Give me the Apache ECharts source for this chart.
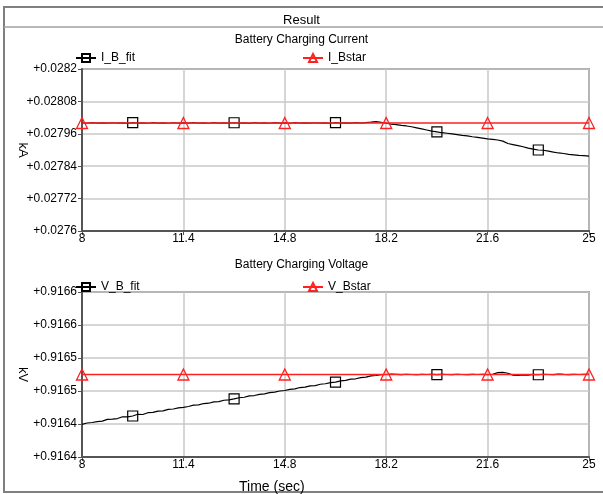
<!DOCTYPE html>
<html>
<head>
<meta charset="utf-8">
<script src="https://cdn.jsdelivr.net/npm/echarts@6.0.0/dist/echarts.min.js"></script>
<style>
  html, body { margin: 0; padding: 0; background: #fff; }
  #main { width: 603px; height: 494px; }
</style>
</head>
<body>
<div id="main"></div>
<script>
// time axis (sec)
var times = [
  8, 8.17, 8.34, 8.51, 8.68, 8.85, 9.02, 9.19, 9.36, 9.53,
  9.7, 9.87, 10.04, 10.21, 10.38, 10.55, 10.72, 10.89, 11.06, 11.23,
  11.4, 11.57, 11.74, 11.91, 12.08, 12.25, 12.42, 12.59, 12.76, 12.93,
  13.1, 13.27, 13.44, 13.61, 13.78, 13.95, 14.12, 14.29, 14.46, 14.63,
  14.8, 14.97, 15.14, 15.31, 15.48, 15.65, 15.82, 15.99, 16.16, 16.33,
  16.5, 16.67, 16.84, 17.01, 17.18, 17.35, 17.52, 17.69, 17.86, 18.03,
  18.2, 18.37, 18.54, 18.71, 18.88, 19.05, 19.22, 19.39, 19.56, 19.73,
  19.9, 20.07, 20.24, 20.41, 20.58, 20.75, 20.92, 21.09, 21.26, 21.43,
  21.6, 21.77, 21.94, 22.11, 22.28, 22.45, 22.62, 22.79, 22.96, 23.13,
  23.3, 23.47, 23.64, 23.81, 23.98, 24.15, 24.32, 24.49, 24.66, 24.83,
  25
];

// I_B_fit (kA)
var iFit = [
  0.0280005, 0.0279990, 0.0280012, 0.0279995, 0.0280008, 0.0279992, 0.0280010, 0.0279996, 0.0280006, 0.0279989,
  0.0280011, 0.0279994, 0.0280007, 0.0279991, 0.0280012, 0.0279997, 0.0280004, 0.0279990, 0.0280009, 0.0279995,
  0.0280008, 0.0279993, 0.0280011, 0.0279996, 0.0280005, 0.0279990, 0.0280013, 0.0279994, 0.0280006, 0.0279992,
  0.0280010, 0.0279997, 0.0280007, 0.0279989, 0.0280012, 0.0279995, 0.0280008, 0.0279991, 0.0280011, 0.0279996,
  0.0280004, 0.0279990, 0.0280013, 0.0279993, 0.0280007, 0.0279994, 0.0280010, 0.0279995, 0.0280008, 0.0279990,
  0.0280012, 0.0279996, 0.0280006, 0.0279992, 0.0280011, 0.0279997, 0.0280015, 0.0280030, 0.0280050, 0.0280020,
  0.0279990, 0.0279960, 0.0279940, 0.0279910, 0.0279890, 0.0279860, 0.0279820, 0.0279780, 0.0279740, 0.0279700,
  0.0279670, 0.0279640, 0.0279620, 0.0279600, 0.0279570, 0.0279540, 0.0279520, 0.0279490, 0.0279470, 0.0279440,
  0.0279410, 0.0279390, 0.0279370, 0.0279330, 0.0279240, 0.0279200, 0.0279160, 0.0279120, 0.0279070, 0.0279030,
  0.0279000, 0.0278990, 0.0278960, 0.0278920, 0.0278890, 0.0278870, 0.0278840, 0.0278820, 0.0278800, 0.0278790,
  0.0278770
];

// V_B_fit (kV)
var vFit = [
  0.9164395, 0.9164412, 0.9164418, 0.9164428, 0.9164435, 0.9164456, 0.9164458, 0.9164466, 0.9164488, 0.9164486,
  0.9164497, 0.9164518, 0.9164515, 0.9164537, 0.9164540, 0.9164556, 0.9164560, 0.9164578, 0.9164582, 0.9164596,
  0.9164602, 0.9164612, 0.9164628, 0.9164632, 0.9164648, 0.9164652, 0.9164668, 0.9164672, 0.9164688, 0.9164693,
  0.9164705, 0.9164718, 0.9164724, 0.9164740, 0.9164745, 0.9164760, 0.9164765, 0.9164780, 0.9164786, 0.9164800,
  0.9164806, 0.9164820, 0.9164826, 0.9164842, 0.9164846, 0.9164862, 0.9164866, 0.9164882, 0.9164888, 0.9164902,
  0.9164908, 0.9164922, 0.9164928, 0.9164944, 0.9164948, 0.9164963, 0.9164968, 0.9164984, 0.9164988, 0.9164998,
  0.9165000, 0.9165004, 0.9165001, 0.9164998, 0.9165003, 0.9165000, 0.9164997, 0.9165002, 0.9165000, 0.9165001,
  0.9164998, 0.9165002, 0.9165000, 0.9164999, 0.9165003, 0.9165000, 0.9164998, 0.9165001, 0.9165000, 0.9165002,
  0.9164999, 0.9165003, 0.9165022, 0.9165026, 0.9165015, 0.9164993, 0.9164990, 0.9164995, 0.9164991, 0.9165002,
  0.9164997, 0.9165003, 0.9165000, 0.9164998, 0.9165004, 0.9165001, 0.9164999, 0.9165002, 0.9165000, 0.9165003,
  0.9165001
];

// reference (star) values, marked at the x ticks
var starTimes = [8, 11.4, 14.8, 18.2, 21.6, 25];
var iStar = [0.028, 0.028, 0.028, 0.028, 0.028, 0.028];
var vStar = [0.9165, 0.9165, 0.9165, 0.9165, 0.9165, 0.9165];

// where the fit curves carry a square marker
var fitMarkTimes = [9.7, 13.1, 16.5, 19.9, 23.3];

// tick values
var xTicks = [8, 11.4, 14.8, 18.2, 21.6, 25];
var iTicks = [0.0276, 0.02772, 0.02784, 0.02796, 0.02808, 0.0282];
var vTicks = [0.9164, 0.91644, 0.91648, 0.91652, 0.91656, 0.9166];

var FONT = 'Liberation Sans';

function fitData (vals) {
  return times.map(function (t, i) {
    return { value: [t, vals[i]], symbol: fitMarkTimes.indexOf(t) >= 0 ? 'rect' : 'none' }
  })
}
function starData (vals) {
  return starTimes.map(function (t, i) { return [t, vals[i]] })
}

function xAxisCfg (idx) {
  return {
    type: 'value',
    gridIndex: idx,
    min: 8,
    max: 25,
    axisLine: { show: true, lineStyle: { color: '#555', width: 2 } },
    axisTick: { show: true, customValues: xTicks, length: 4, lineStyle: { color: '#555' } },
    axisLabel: {
      customValues: xTicks, color: '#000', fontFamily: FONT, fontSize: 12, margin: 2,
      formatter: function (v) { return String(v) }
    },
    splitLine: { show: true, lineStyle: { color: '#c8c8c8', width: 1.5 } }
  }
}
function yAxisCfg (idx, ticks, min, max, name, fmt) {
  return {
    type: 'value',
    gridIndex: idx,
    min: min,
    max: max,
    name: name,
    nameLocation: 'middle',
    nameRotate: -90,
    nameGap: 53,
    nameMoveOverlap: false,
    nameTextStyle: { color: '#000', fontFamily: FONT, fontSize: 13 },
    axisLine: { show: true, lineStyle: { color: '#555', width: 2 } },
    axisTick: { show: true, customValues: ticks, length: 4, lineStyle: { color: '#555' } },
    axisLabel: { customValues: ticks, color: '#000', fontFamily: FONT, fontSize: 12, margin: 5, formatter: fmt },
    splitLine: { show: true, lineStyle: { color: '#c8c8c8', width: 1.5 } }
  }
}

function fitSeries (name, idx, vals) {
  return {
    name: name, type: 'line', xAxisIndex: idx, yAxisIndex: idx,
    data: fitData(vals),
    symbol: 'rect', symbolSize: 10, showAllSymbol: true,
    lineStyle: { color: '#000', width: 1.2 },
    itemStyle: { color: 'rgba(0,0,0,0)', borderColor: '#000', borderWidth: 1.2 },
    emphasis: { disabled: true },
    z: 2
  }
}
function starSeries (name, idx, vals) {
  return {
    name: name, type: 'line', xAxisIndex: idx, yAxisIndex: idx,
    data: starData(vals),
    symbol: 'triangle', symbolSize: 11, showAllSymbol: true,
    lineStyle: { color: '#ff2020', width: 1.5 },
    itemStyle: { color: 'rgba(0,0,0,0)', borderColor: '#ff2020', borderWidth: 1.3 },
    emphasis: { disabled: true },
    z: 3
  }
}
function legendCfg (name, left, top) {
  return {
    data: [name], left: left, top: top, itemWidth: 20, itemHeight: 10,
    textStyle: { color: '#000', fontFamily: FONT, fontSize: 12 },
    selectedMode: false
  }
}

var chart = echarts.init(document.getElementById('main'), null, { renderer: 'canvas' })
var option = {
  animation: false,
  backgroundColor: '#fff',
  textStyle: { fontFamily: FONT },
  graphic: [
    { type: 'rect', shape: { x: 4, y: 7, width: 620, height: 485 }, style: { fill: 'none', stroke: '#808080', lineWidth: 2 }, silent: true },
    { type: 'line', shape: { x1: 4, y1: 27, x2: 603, y2: 27 }, style: { stroke: '#a0a0a0', lineWidth: 1.5 }, silent: true }
  ],
  title: [
    { text: 'Result', left: 'center', top: 9, textStyle: { fontFamily: FONT, fontSize: 13, fontWeight: 'normal', color: '#000' } },
    { text: 'Battery Charging Current', left: 'center', top: 29, textStyle: { fontFamily: FONT, fontSize: 12, fontWeight: 'normal', color: '#000' } },
    { text: 'Battery Charging Voltage', left: 'center', top: 254, textStyle: { fontFamily: FONT, fontSize: 12, fontWeight: 'normal', color: '#000' } },
    { text: 'Time (sec)', left: 234, top: 475, textStyle: { fontFamily: FONT, fontSize: 14, fontWeight: 'normal', color: '#000' } }
  ],
  legend: [
    legendCfg('I_B_fit', 70, 47),
    legendCfg('I_Bstar', 297, 47),
    legendCfg('V_B_fit', 70, 276),
    legendCfg('V_Bstar', 297, 276)
  ],
  grid: [
    { left: 82, top: 69, width: 507, height: 162, show: true, borderColor: '#555', borderWidth: 1.5, backgroundColor: 'transparent', containLabel: false, outerBoundsMode: 'none' },
    { left: 82, top: 292, width: 507, height: 165, show: true, borderColor: '#555', borderWidth: 1.5, backgroundColor: 'transparent', containLabel: false, outerBoundsMode: 'none' }
  ],
  xAxis: [xAxisCfg(0), xAxisCfg(1)],
  yAxis: [
    yAxisCfg(0, iTicks, 0.0276, 0.0282, 'kA', function (v) { return '+' + parseFloat(v.toFixed(5)) }),
    yAxisCfg(1, vTicks, 0.9164, 0.9166, 'kV', function (v) { return '+' + v.toFixed(4) })
  ],
  series: [
    fitSeries('I_B_fit', 0, iFit),
    starSeries('I_Bstar', 0, iStar),
    fitSeries('V_B_fit', 1, vFit),
    starSeries('V_Bstar', 1, vStar)
  ]
}
chart.setOption(option)
</script>
</body>
</html>
